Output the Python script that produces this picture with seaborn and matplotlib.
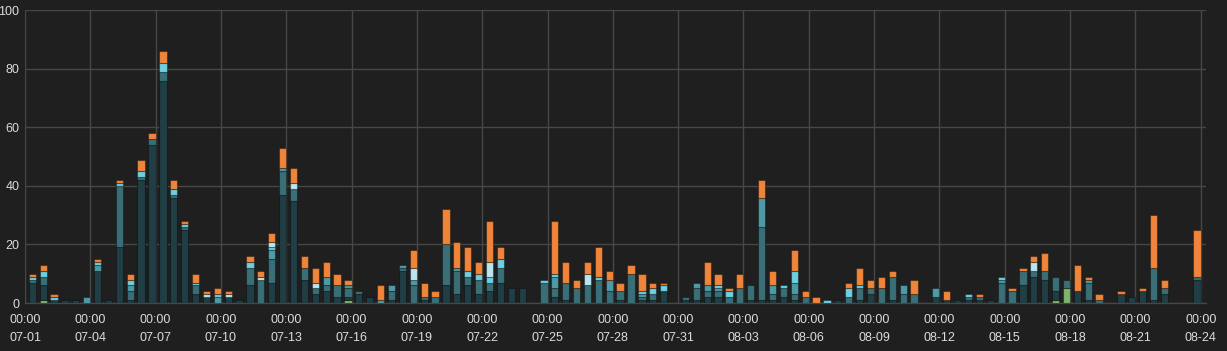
import matplotlib
matplotlib.use("Agg")
import numpy as np
import pandas as pd
import seaborn as sns
import matplotlib.pyplot as plt
import matplotlib.dates as mdates

# ---------------- data (one bar every 12 h, starting 07-01 08:00) ----------------
start_time = "2023-07-01 08:00"
n_slots = 108

green = [0, 1, 0, 0, 0, 0, 0, 0, 0, 0,
         0, 0, 0, 0, 0, 0, 0, 0, 0, 0,
         0, 0, 0, 0, 0, 0, 0, 0, 0, 1,
         0, 0, 0, 0, 0, 0, 0, 0, 0, 0,
         0, 0, 0, 0, 0, 0, 0, 0, 0, 0,
         0, 0, 0, 0, 0, 0, 0, 0, 0, 0,
         0, 0, 0, 0, 0, 0, 0, 0, 0, 0,
         0, 0, 0, 0, 0, 0, 0, 0, 0, 0,
         0, 0, 0, 0, 0, 0, 0, 0, 0, 0,
         0, 0, 0, 0, 1, 5, 0, 0, 0, 0,
         0, 0, 0, 0, 0, 0, 0, 0]

dark = [7, 5, 1, 1, 1, 0, 11, 1, 19, 1,
        42, 54, 76, 36, 25, 3, 2, 0, 2, 1,
        6, 0, 7, 37, 35, 8, 3, 4, 2, 1,
        3, 2, 0, 1, 11, 0, 1, 0, 6, 3,
        6, 3, 4, 7, 5, 5, 0, 0, 2, 1,
        0, 0, 0, 0, 1, 0, 1, 1, 4, 0,
        1, 1, 2, 2, 0, 0, 1, 1, 1, 2,
        1, 0, 0, 0, 1, 0, 1, 3, 0, 1,
        0, 0, 0, 2, 1, 1, 1, 1, 1, 0,
        0, 6, 9, 8, 3, 0, 4, 1, 0, 0,
        3, 2, 4, 1, 3, 0, 0, 8]

mid = [1, 3, 0, 0, 0, 0, 0, 0, 21, 3,
       1, 2, 3, 1, 1, 3, 0, 0, 0, 0,
       6, 8, 8, 8, 4, 4, 2, 2, 4, 3,
       1, 0, 0, 3, 1, 6, 1, 2, 14, 8,
       3, 5, 3, 5, 0, 0, 0, 7, 3, 6,
       5, 6, 8, 4, 3, 10, 1, 2, 0, 0,
       1, 4, 2, 2, 2, 5, 5, 25, 2, 3,
       2, 2, 0, 0, 0, 2, 4, 2, 5, 8,
       3, 3, 0, 0, 0, 0, 1, 1, 0, 7,
       4, 5, 2, 3, 5, 3, 0, 6, 1, 0,
       0, 0, 0, 11, 2, 0, 0, 1]

light = [0, 0, 0, 0, 0, 2, 2, 0, 0, 2,
         0, 0, 0, 0, 0, 0, 0, 2, 0, 0,
         0, 0, 3, 1, 0, 0, 0, 3, 0, 1,
         0, 0, 1, 2, 1, 2, 0, 0, 0, 1,
         0, 0, 0, 0, 0, 0, 0, 0, 4, 0,
         0, 0, 0, 4, 0, 0, 1, 0, 0, 0,
         0, 2, 2, 1, 0, 0, 0, 10, 3, 0,
         4, 0, 0, 0, 0, 0, 0, 0, 0, 0,
         3, 0, 0, 3, 0, 0, 0, 0, 0, 1,
         0, 0, 0, 0, 0, 0, 0, 1, 0, 0,
         0, 0, 0, 0, 0, 0, 0, 0]

cyan = [1, 2, 1, 0, 0, 0, 1, 0, 1, 2,
        2, 0, 3, 2, 1, 1, 0, 1, 0, 0,
        2, 0, 1, 0, 0, 0, 0, 0, 0, 0,
        0, 0, 0, 0, 0, 0, 0, 0, 0, 0,
        2, 2, 2, 3, 0, 0, 0, 1, 1, 0,
        0, 0, 1, 0, 0, 0, 1, 2, 2, 0,
        0, 0, 0, 1, 2, 0, 0, 0, 0, 1,
        4, 0, 0, 1, 0, 3, 1, 0, 0, 0,
        0, 0, 0, 0, 0, 0, 1, 0, 0, 1,
        0, 0, 0, 0, 0, 0, 0, 0, 0, 0,
        0, 0, 0, 0, 0, 0, 0, 0]

pale = [0, 0, 0, 0, 0, 0, 0, 0, 0, 0,
        0, 0, 0, 0, 0, 0, 1, 0, 1, 0,
        0, 1, 2, 0, 2, 0, 2, 0, 0, 0,
        0, 0, 0, 0, 0, 4, 0, 0, 0, 0,
        0, 0, 5, 0, 0, 0, 0, 0, 0, 0,
        0, 4, 0, 0, 0, 0, 0, 0, 0, 0,
        0, 0, 0, 0, 0, 0, 0, 0, 0, 0,
        0, 0, 0, 0, 0, 0, 0, 0, 0, 0,
        0, 0, 0, 0, 0, 0, 0, 0, 0, 0,
        0, 0, 3, 0, 0, 0, 0, 0, 0, 0,
        0, 0, 0, 0, 0, 0, 0, 0]

orange = [1, 2, 1, 0, 0, 0, 1, 0, 1, 2,
          4, 2, 4, 3, 1, 3, 1, 2, 1, 0,
          2, 2, 3, 7, 5, 4, 5, 5, 4, 2,
          0, 0, 5, 0, 0, 6, 5, 2, 12, 9,
          8, 4, 14, 4, 0, 0, 0, 0, 18, 7,
          3, 4, 10, 3, 3, 3, 6, 2, 1, 0,
          0, 0, 8, 4, 1, 5, 0, 6, 5, 0,
          7, 2, 2, 0, 0, 2, 6, 3, 4, 2,
          0, 5, 0, 0, 3, 0, 0, 1, 0, 0,
          1, 1, 2, 6, 0, 0, 9, 1, 2, 0,
          1, 0, 1, 18, 3, 0, 0, 16]

tick_dates = ["07-01", "07-04", "07-07", "07-10", "07-13", "07-16", "07-19",
              "07-22", "07-25", "07-28", "07-31", "08-03", "08-06", "08-09",
              "08-12", "08-15", "08-18", "08-21", "08-24"]
tick_time = "00:00"
y_ticks = [0, 20, 40, 60, 80, 100]

# ---------------- style ----------------
bg = "#1f1f1f"
grid_c = "#474747"
text_c = "#dcdcdc"
sns.set_theme(style="dark")
plt.rcParams["font.family"] = ["Liberation Sans", "DejaVu Sans"]

series = [
    (green, "#7db36a"),
    (dark, "#213e45"),
    (mid, "#3a6f78"),
    (light, "#4e9ba7"),
    (cyan, "#6dcfe0"),
    (pale, "#b8e5ee"),
    (orange, "#ee853a"),
]

fig = plt.figure(figsize=(12.27, 3.51), dpi=100, facecolor=bg)
ax = fig.add_axes([25 / 1227, 48 / 351, 1180.7 / 1227, 292.7 / 351])
ax.set_facecolor(bg)

times = pd.date_range(start_time, periods=n_slots, freq="12h")
xnum = mdates.date2num(times)
bottom = np.zeros(n_slots)
for vals, col in series:
    v = np.asarray(vals, dtype=float)
    m = v > 0
    ax.bar(xnum[m], v[m], width=8 / 24, bottom=bottom[m], color=col,
           edgecolor=(0, 0, 0, 0.35), linewidth=0.8, zorder=3)
    bottom += v

x0 = mdates.date2num(pd.Timestamp("2023-07-01 00:00"))
x1 = mdates.date2num(pd.Timestamp("2023-08-24 05:30"))
ax.set_xlim(x0, x1)
ax.set_ylim(0, 100)

tick_pos = [mdates.date2num(pd.Timestamp("2023-" + d)) for d in tick_dates]
ax.set_xticks(tick_pos)
ax.set_xticklabels([f"{tick_time}\n{d}" for d in tick_dates], linespacing=1.65)
ax.set_yticks(y_ticks)
ax.set_yticklabels([str(t) for t in y_ticks])

ax.grid(True, color=grid_c, linewidth=1, zorder=0)
ax.tick_params(axis="both", length=0, colors=text_c, labelsize=9)
ax.tick_params(axis="x", pad=8)
ax.tick_params(axis="y", pad=4)
for s in ["top", "right", "left"]:
    ax.spines[s].set_visible(False)
ax.spines["bottom"].set_color(grid_c)
ax.spines["bottom"].set_linewidth(1)

fig.savefig("out.png", dpi=100, facecolor=bg)
